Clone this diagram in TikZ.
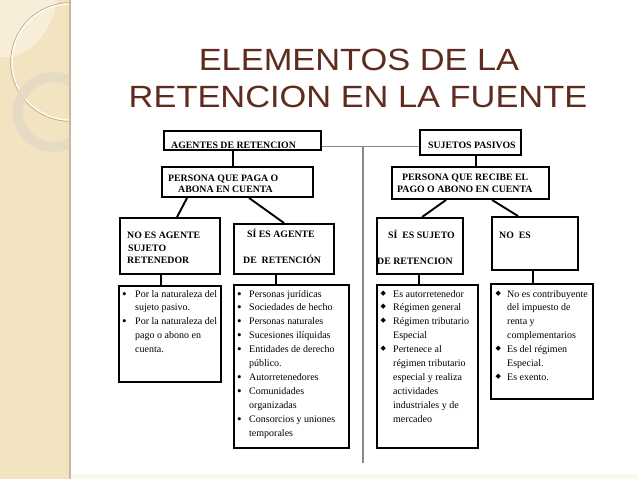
\documentclass[tikz,border=0pt]{standalone}
\usepackage{graphicx}
\usepackage{fontspec}
\setmainfont{Liberation Serif}
\newfontfamily\titlefont{Liberation Sans}
\newfontfamily\symfont{DejaVu Sans}
\definecolor{stripbg}{HTML}{F2E3C1}
\definecolor{striplight}{HTML}{F7EDD8}
\definecolor{stripedge}{HTML}{C9B99C}
\definecolor{ringcol}{HTML}{E2D8C4}
\definecolor{arcshade}{HTML}{B9A784}
\definecolor{titlecol}{HTML}{5E2B1E}
\definecolor{sepgray}{HTML}{8A8A8A}
\definecolor{bottomband}{HTML}{FDF7F1}
\newcommand\dbox[5]{\node[box, minimum width={(#4)-(#2)}, minimum height={(#5)-(#3)}] (#1) at ({((#2)+(#4))/2},{((#3)+(#5))/2}) {};}
\begin{document}
\begin{tikzpicture}[x=1pt,y=-1pt,
  box/.style={draw=black, line width=1.9pt, inner sep=0pt, fill=white},
  link/.style={draw=black, line width=1.9pt},
  sepline/.style={draw=sepgray, line width=1.1pt},
  hd/.style={anchor=base west, inner sep=0pt, font=\fontsize{9.8}{12}\selectfont\bfseries},
  li/.style={anchor=base west, inner sep=0pt, font=\fontsize{10}{12}\selectfont},
  dotb/.style={anchor=base west, inner sep=0pt, font=\fontsize{13}{12}\selectfont},
  diab/.style={anchor=base west, inner sep=0pt, font=\symfont\fontsize{7}{7}\selectfont},
  ttl/.style={anchor=base, inner sep=0pt, text=titlecol, font=\titlefont\fontsize{30.7}{37}\selectfont}]
\useasboundingbox (0,0) rectangle (638,479);
\fill[white] (0,0) rectangle (638,479);
\fill[bottomband] (70,474) rectangle (638,479);
% left decorative strip
\fill[stripbg] (0,0) rectangle (70,479);
\begin{scope}
  \clip (0,0) rectangle (70,479);
  \fill[striplight] (0,0) -- (57,0) .. controls (52,30) and (36,50) .. (12,57) -- (0,57) -- cycle;
  \draw[arcshade, line width=0.7pt] (70,62) circle[radius=59.3];
  \draw[white, line width=1.2pt] (70,62) circle[radius=58];
  \draw[ringcol, line width=10pt, opacity=0.8] (53,112) circle[radius=35];
\end{scope}
\draw[stripedge, line width=1.5pt] (70,0) -- (70,479);
% title
\node[ttl] (t1) at (359,70) {\scalebox{1.12}[1]{ELEMENTOS DE LA}};
\node[ttl] (t2) at (358,107) {\scalebox{1.12}[1]{RETENCION EN LA FUENTE}};
% separator
\coordinate (vtop) at (363,146.5);
\coordinate (vbot) at (363,463);
% boxes
\dbox{A}{164}{131}{321}{150}
\dbox{S}{420}{130}{521}{155}
\dbox{P1}{162}{167}{313}{197}
\dbox{P2}{392}{167}{549}{199}
\dbox{N1}{120}{218}{220}{274}
\dbox{N2}{234}{224}{334}{274}
\dbox{N3}{377}{218}{463}{274}
\dbox{N4}{492}{217}{578}{270}
\dbox{L1}{119}{286}{221}{382}
\dbox{L2}{234}{285}{349}{448}
\dbox{L3}{377}{285}{478}{448}
\dbox{L4}{491}{284}{593}{399}
% gray connectors
\draw[sepline] ([yshift=-6pt]A.east) -- ([yshift=-4pt]S.west);
\draw[sepline] (vtop) -- (vbot);
% black connectors
\draw[link] ([xshift=70pt]A.south west) -- ([xshift=72pt]P1.north west);
\draw[link] ([xshift=57pt]S.south west) -- ([xshift=85pt]P2.north west);
\draw[link] ([xshift=26pt]P1.south west) -- ([xshift=58pt]N1.north west);
\draw[link] ([xshift=88pt]P1.south west) -- ([xshift=51pt]N2.north west);
\draw[link] ([xshift=55pt]P2.south west) -- ([xshift=46pt]N3.north west);
\draw[link] ([xshift=101pt]P2.south west) -- ([xshift=27pt]N4.north west);
\draw[link] ([xshift=42pt]N1.south west) -- ([xshift=43pt]L1.north west);
\draw[link] ([xshift=43pt]N2.south west) -- ([xshift=43pt]L2.north west);
\draw[link] ([xshift=43pt]N3.south west) -- ([xshift=43pt]L3.north west);
\draw[link] ([xshift=42pt]N4.south west) -- ([xshift=43pt]L4.north west);
% headers
\node[hd] (hA) at (171,148) {AGENTES DE RETENCION};
\node[hd] (hS) at (428,148) {SUJETOS PASIVOS};
\node[hd] (hP1a) at (168,181) {PERSONA QUE PAGA O};
\node[hd] (hP1b) at (178,192.5) {ABONA EN CUENTA};
\node[hd] (hP2a) at (402,180) {PERSONA QUE RECIBE EL};
\node[hd] (hP2b) at (397,192) {PAGO O ABONO EN CUENTA};
\node[hd] (hN1a) at (127,238) {NO ES AGENTE};
\node[hd] (hN1b) at (128,251) {SUJETO};
\node[hd] (hN1c) at (127,263) {RETENEDOR};
\node[hd] (hN2a) at (247,237) {SÍ ES AGENTE};
\node[hd] (hN2b) at (243,263) {DE\ \ RETENCIÓN};
\node[hd] (hN3a) at (388,238) {SÍ\ \ ES SUJETO};
\node[hd] (hN3b) at (377,264) {DE RETENCION};
\node[hd] (hN4a) at (499,238) {NO\ \ ES};
% lists
\foreach \t [count=\i] in {Por la naturaleza del, sujeto pasivo., Por la naturaleza del, pago o abono en, cuenta.}
  \node[li] (la\i) at (135,{297+13.9*(\i-1)}) {\t};
\foreach \i in {1,3}
  \node[dotb] (ba\i) at (122,{298+13.9*(\i-1)}) {•};
\foreach \t [count=\i] in {Personas jurídicas, Sociedades de hecho, Personas naturales, Sucesiones ilíquidas, Entidades de derecho, público., Autorretenedores, Comunidades, organizadas, Consorcios y uniones, temporales}
  \node[li] (lb\i) at (249,{297+13.9*(\i-1)}) {\t};
\foreach \i in {1,2,3,4,5,7,8,10}
  \node[dotb] (bb\i) at (237,{298+13.9*(\i-1)}) {•};
\foreach \t [count=\i] in {Es autorretenedor, Régimen general, Régimen tributario, Especial, Pertenece al, régimen tributario, especial y realiza, actividades, industriales y de, mercadeo}
  \node[li] (lc\i) at (393,{297+13.9*(\i-1)}) {\t};
\foreach \i in {1,2,3,5}
  \node[diab] (bc\i) at (380.5,{295+13.9*(\i-1)}) {◆};
\foreach \t [count=\i] in {No es contribuyente, del impuesto de, renta y, complementarios, Es del régimen, Especial., Es exento.}
  \node[li] (ld\i) at (507,{297+13.9*(\i-1)}) {\t};
\foreach \i in {1,5,7}
  \node[diab] (bd\i) at (495.5,{295+13.9*(\i-1)}) {◆};
\end{tikzpicture}
\end{document}
